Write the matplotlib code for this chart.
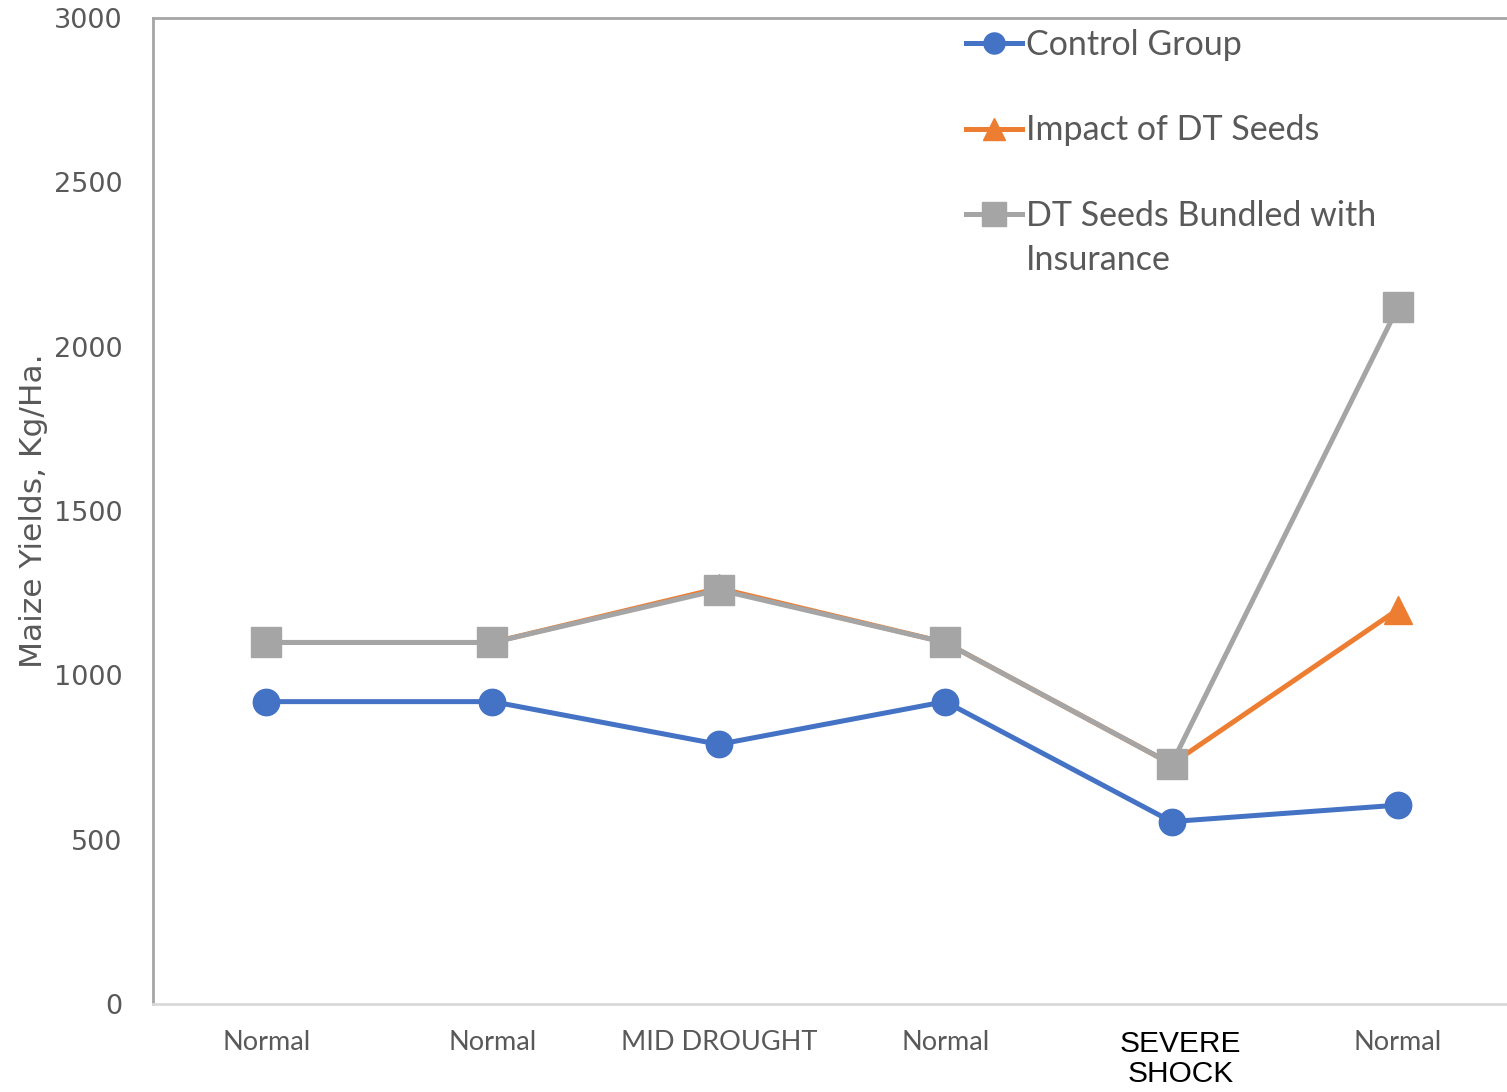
import matplotlib
matplotlib.use("Agg")
import matplotlib.pyplot as plt
from matplotlib import font_manager
from matplotlib.transforms import ScaledTranslation

categories = ["Normal", "Normal", "MID DROUGHT", "Normal", "SEVERE\nSHOCK", "Normal"]
control_group = [920, 920, 790, 920, 555, 605]
dt_seeds = [1100, 1100, 1265, 1100, 730, 1200]
dt_bundled = [1100, 1100, 1260, 1100, 730, 2120]
y_ticks = [0, 500, 1000, 1500, 2000, 2500, 3000]
legend_labels = ["Control Group", "Impact of DT Seeds", "DT Seeds Bundled with"]
legend_wrap = "Insurance"

available = {f.name for f in font_manager.fontManager.ttflist}
narrow = "Liberation Sans Narrow" if "Liberation Sans Narrow" in available else "DejaVu Sans"

text_grey = "#595959"

fig = plt.figure(figsize=(15.07, 10.92), dpi=100)
ax = fig.add_axes([0.1015, 0.0806, 0.9012, 0.9029])

x = list(range(len(categories)))
ax.plot(x, control_group, color="#4472C4", lw=3.6, marker="o", ms=19,
        label=legend_labels[0], zorder=3)
ax.plot(x, dt_seeds, color="#ED7D31", lw=3.6, marker="^", ms=20,
        label=legend_labels[1], zorder=3)
ax.plot(x, dt_bundled, color="#A5A5A5", lw=3.6, marker="s", ms=21,
        label=legend_labels[2], zorder=4)

ax.set_xlim(-0.5, 5.5)
ax.set_ylim(0, 3000)
ax.set_yticks(y_ticks)
ax.set_yticklabels([str(v) for v in y_ticks], fontsize=19.5, color=text_grey,
                   family="DejaVu Sans")
ax.set_xticks(x)
ax.set_xticklabels(categories, fontsize=19.5, family="Lato", color=text_grey,
                   linespacing=0.95)
ax.tick_params(axis="both", length=0)
ax.tick_params(axis="x", pad=19)
ax.tick_params(axis="y", pad=22)

sev = ax.get_xticklabels()[4]
sev.set_color("black")
sev.set_family("Liberation Sans")
sev.set_fontsize(21.5)
sev.set_linespacing(1.08)
sev.set_transform(sev.get_transform() + ScaledTranslation(0.09, 0.0, fig.dpi_scale_trans))

for side, col in [("left", "#A6A6A6"), ("top", "#A6A6A6"),
                  ("bottom", "#D9D9D9"), ("right", "#A6A6A6")]:
    ax.spines[side].set_color(col)
    ax.spines[side].set_linewidth(2)

ax.set_ylabel("Maize Yields, Kg/Ha.", fontsize=22.5, color=text_grey,
              family=narrow)
ax.yaxis.set_label_coords(-0.077, 0.5)

leg = ax.legend(loc="upper left", bbox_to_anchor=(0.5885, 1.003), frameon=False,
                prop={"family": "Lato", "size": 24.5}, handlelength=1.65,
                handletextpad=0.12, labelspacing=1.58, markerscale=0.8,
                labelcolor=text_grey, borderaxespad=0)

# second line of the wrapped third legend entry
fig.canvas.draw()
last = leg.get_texts()[-1]
bb = last.get_window_extent()
inv = fig.transFigure.inverted()
x0, y0 = inv.transform((bb.x0, bb.y0))
fig.text(x0, y0 - 12 / fig.bbox.height, legend_wrap, family="Lato", size=24.5,
         color=text_grey, ha="left", va="top")

fig.savefig("out.png", dpi=100)
